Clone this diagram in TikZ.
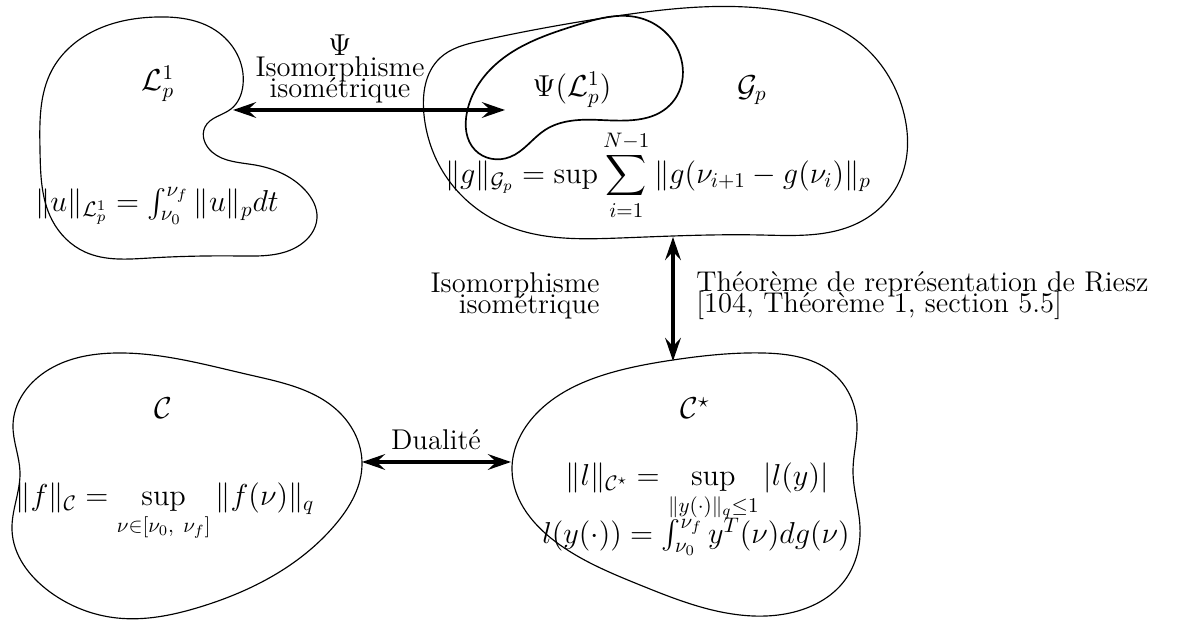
\documentclass[tikz,border=0pt]{standalone}
\usepackage{amsmath,amssymb}
\usetikzlibrary{arrows.meta,hobby}
\lineskiplimit=-20pt
\begin{document}
\begin{tikzpicture}[x=0.476pt,y=-0.476pt,
  every node/.style={inner sep=0pt,font=\fontsize{13.6}{10}\selectfont},
  blob/.style={draw,line width=0.55pt,use Hobby shortcut,closed=true},
  innerblob/.style={draw,line width=0.8pt,use Hobby shortcut,closed=true},
  link/.style={line width=1.5pt,{Stealth[length=11pt,width=7.5pt,inset=4pt]}-{Stealth[length=11pt,width=7.5pt,inset=4pt]}},
  lbl/.style={align=center}]
\useasboundingbox (0,0) rectangle (1184,622);
% blob L
\draw[blob] (90,33) .. (157,17) .. (215,30) .. (243,85) .. (231,109) .. (205,127)
 .. (212,152) .. (255,165) .. (305,190) .. (317,218) .. (300,245) .. (240,256)
 .. (150,258) .. (85,252) .. (52,220) .. (40,150) .. (52,70);
% blob G
\draw[blob] (424,115) .. (440,58) .. (480,41) .. (610,17) .. (760,8) .. (860,43)
 .. (903,110) .. (900,180) .. (860,222) .. (760,235) .. (620,238) .. (510,227) .. (445,175);
% inner blob Psi(L)
\draw[innerblob] (467,112) .. (495,65) .. (577,25) .. (640,18) .. (680,55) .. (670,105)
 .. (600,120) .. (545,130) .. (510,157) .. (475,150);
% blob C
\draw[blob] (117,353) .. (250,375) .. (340,413) .. (362,463) .. (335,525) .. (200,607)
 .. (117,618) .. (50,592) .. (12,530) .. (20,472) .. (13,425) .. (45,372);
% blob C*
\draw[blob] (673,360) .. (763,353) .. (835,375) .. (857,425) .. (853,470) .. (860,527)
 .. (845,580) .. (790,613) .. (740,615) .. (640,585) .. (560,545) .. (512,470)
 .. (540,410) .. (610,373);

\coordinate (Lin) at (233,110);
\coordinate (Pin) at (505,110);
\coordinate (Gbot) at (673,237);
\coordinate (Ctop) at (673,361);
\coordinate (Cr) at (362,462);
\coordinate (Csl) at (511,462);

\draw[link] (Lin) -- (Pin);
\draw[link] (Gbot) -- (Ctop);
\draw[link] (Cr) -- (Csl);

\node[lbl] (psilbl) at (340,69) {$\Psi$\\Isomorphisme\\isométrique};
\node[lbl,anchor=east,align=right] (isolbl) at (600,296) {Isomorphisme\\isométrique};
\node[lbl,anchor=west,align=left] (rieszlbl) at (696,296) {Théorème de représentation de Riesz\\{}[104, Théorème 1, section 5.5]};
\node[lbl] (duallbl) at (436,440) {Dualité};

\node (Ltitle) at (158,84) {$\mathcal{L}_p^1$};
\node (Lnorm) at (157,206) {$\|u\|_{\mathcal{L}_p^1} = \int_{\nu_0}^{\nu_f} \|u\|_p dt$};
\node (Ptitle) at (572,90) {$\Psi(\mathcal{L}_p^1)$};
\node (Gtitle) at (752,90) {$\mathcal{G}_p$};
\node (Gnorm) at (658,175) {$\displaystyle \|g\|_{\mathcal{G}_p} = \sup \sum_{i=1}^{N-1} \|g(\nu_{i+1} - g(\nu_i)\|_p$};
\node (Ctitle) at (163,408) {$\mathcal{C}$};
\node (Cnorm) at (165,512) {$\displaystyle \|f\|_{\mathcal{C}} = \sup_{\nu\in[\nu_0,\ \nu_f]} \|f(\nu)\|_q$};
\node (Cstitle) at (695,408) {$\mathcal{C}^\star$};
\node (Csnorm) at (697,492) {$\displaystyle \|l\|_{\mathcal{C}^\star} = \sup_{\|y(\cdot)\|_q\le 1} |l(y)|$};
\node (Csint) at (696,537) {$l(y(\cdot)) = \int_{\nu_0}^{\nu_f} y^T(\nu)dg(\nu)$};
\end{tikzpicture}
\end{document}
